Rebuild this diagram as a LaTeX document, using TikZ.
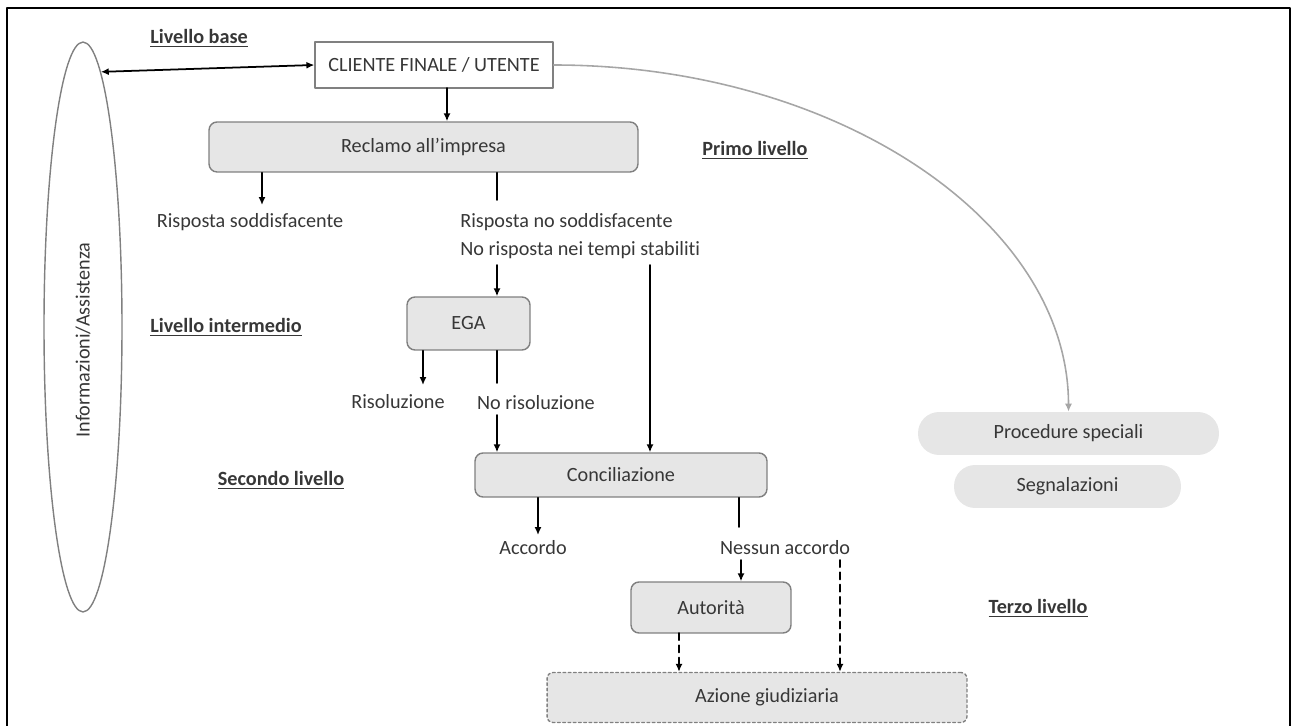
\documentclass[tikz,border=0pt]{standalone}
\usepackage{fontspec}
\setmainfont{Carlito}[Ligatures=NoCommon]
\usepackage{pgf,tikz}
\usetikzlibrary{arrows.meta}
\usetikzlibrary{positioning}
\usetikzlibrary{shapes.geometric}
\definecolor{boxgray}{RGB}{230,230,230}
\definecolor{linegray}{RGB}{128,128,128}
\definecolor{txtgray}{RGB}{55,55,55}
\begin{document}
\begin{tikzpicture}[line cap=round,line join=round,x=0.02cm,y=-0.02cm,
  font=\fontsize{11.5}{16}\selectfont,text=txtgray,
  >={Latex[length=4.5pt,width=4pt]},
  arr/.style={->,line width=1pt,black},
  plain/.style={line width=1pt,black},
  dasharr/.style={->,line width=1.1pt,black,dash pattern=on 4pt off 3pt},
  lvl/.style={font=\fontsize{11.5}{14}\selectfont\bfseries},
  gbox/.style={draw=linegray,line width=0.8pt,fill=boxgray,rounded corners=0.16cm,inner sep=0pt},
  pill/.style={fill=boxgray,rounded corners=0.42cm,inner sep=0pt,minimum height=0.86cm}]
\useasboundingbox (0,0) rectangle (1295,726);
\draw [line width=1pt] (7,740)-- (7,8)-- (1290,8)-- (1290,740);
% side ellipse
\node[ellipse,draw=linegray,line width=0.8pt,minimum width=1.56cm,minimum height=11.4cm,inner sep=0pt] (info) at (83,327) {};
\node[rotate=90] (infotxt) at (83,340) {Informazioni/Assistenza};
% level labels
\node[lvl] (livbase) at (199,38) {\underline{Livello base}};
\node[lvl] (primo) at (755,150) {\underline{Primo livello}};
\node[lvl] (livint) at (226,327) {\underline{Livello intermedio}};
\node[lvl] (secondo) at (281,480) {\underline{Secondo livello}};
\node[lvl] (terzo) at (1038,608) {\underline{Terzo livello}};
% boxes
\node[draw=linegray,line width=0.8pt,fill=white,inner sep=0pt,minimum width=4.76cm,minimum height=0.92cm] (cliente) at (434,65) {CLIENTE FINALE / UTENTE};
\node[gbox,minimum width=8.58cm,minimum height=1cm] (reclamo) at (423.5,147) {Reclamo all'impresa};
\node[gbox,minimum width=2.46cm,minimum height=1.06cm] (ega) at (468.5,323.5) {EGA};
\node[gbox,minimum width=5.84cm,minimum height=0.88cm] (concil) at (621,475) {Conciliazione};
\node[gbox,minimum width=3.2cm,minimum height=1.02cm] (autorita) at (711,607.5) {Autorità};
\node[gbox,dash pattern=on 1.5pt off 1.5pt,rounded corners=0.12cm,minimum width=8.4cm,minimum height=1cm] (azione) at (757,697.5) {\hspace{0.4cm}Azione giudiziaria};
\node[pill,minimum width=6.02cm] (procedure) at (1068.5,433.5) {Procedure speciali};
\node[pill,minimum width=4.54cm] (segnal) at (1067.5,486.5) {Segnalazioni};
% outcome texts
\node (soddisf) at (250,222) {Risposta soddisfacente};
\node[anchor=west,align=left,inner sep=0pt] (nosodd) at (460,236) {Risposta no soddisfacente\\No risposta nei tempi stabiliti};
\node (risol) at (398,402) {Risoluzione};
\node (norisol) at (536,403) {No risoluzione};
\node (accordo) at (533,548) {Accordo};
\node (nessun) at (785,548) {Nessun accordo};
% branch points
\coordinate (c1) at (447,88);
\coordinate (t1) at (262,205);
\coordinate (t2) at (497,200);
\coordinate (t3) at (497,265);
\coordinate (t4) at (650,265);
\coordinate (t5) at (423,385);
\coordinate (t6) at (497,383);
\coordinate (t7) at (497,415);
\coordinate (t8) at (538,535);
\coordinate (t9) at (739,527);
\coordinate (t10) at (741,560);
\coordinate (t11) at (840,560);
\coordinate (t12) at (679,633);
% connectors
\draw [<->,line width=1pt,black] (info.86.5)-- (cliente.west);
\draw [arr] (c1)-- (reclamo.north -| c1);
\draw [arr] (reclamo.south -| t1)-- (t1);
\draw [plain] (reclamo.south -| t2)-- (t2);
\draw [arr] (t3)-- (ega.north -| t3);
\draw [arr] (t4)-- (concil.north -| t4);
\draw [arr] (ega.south -| t5)-- (t5);
\draw [plain] (ega.south -| t6)-- (t6);
\draw [arr] (t7)-- (concil.north -| t7);
\draw [arr] (concil.south -| t8)-- (t8);
\draw [plain] (concil.south -| t9)-- (t9);
\draw [arr] (t10)-- (autorita.north -| t10);
\draw [dasharr] (t11)-- (azione.north -| t11);
\draw [dasharr] (t12)-- (azione.north -| t12);
\draw [->,line width=0.9pt,color=black!35] (cliente.east) .. controls +(285,0) and +(0,-189) .. (procedure.north);
\end{tikzpicture}
\end{document}
